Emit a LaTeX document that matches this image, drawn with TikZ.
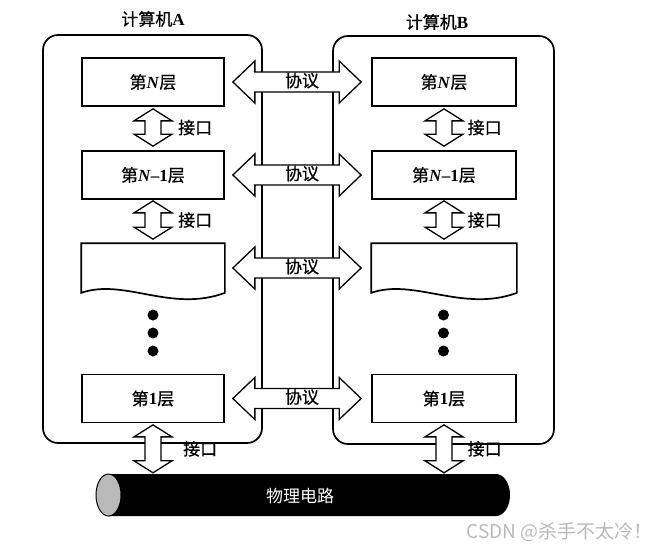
\documentclass[tikz,border=0pt]{standalone}
\usepackage{fontspec}
\setmainfont{Liberation Serif}
\newfontfamily\cjk[FakeBold=0.6]{Noto Sans CJK SC}
\newfontfamily\wmfont{Noto Sans CJK SC}
\usetikzlibrary{calc}
\newcommand{\zh}[1]{{\cjk\mdseries #1}}
\tikzset{
  comp/.style={draw, line width=1.7pt, rounded corners=15pt, minimum width=219pt, minimum height=408pt, inner sep=0pt},
  layer/.style={draw, line width=1.7pt, minimum width=142pt, minimum height=48pt, inner sep=0pt, fill=white, font=\fontsize{17}{20}\selectfont\bfseries},
  arr/.style={draw, line width=1.3pt, fill=white, line join=miter},
  lbl/.style={inner sep=0pt, font=\fontsize{17}{20}\selectfont\bfseries},
  dotnode/.style={circle, fill=black, inner sep=0pt, minimum size=11pt},
  wave/.style={draw, line width=1.7pt, fill=white},
}
\newcommand{\hdarr}[2]{\path[arr] (#1) -- ($(#1)+(22,-21)$) -- ($(#1)+(22,-10)$) -- ($(#2)+(-22,-10)$) -- ($(#2)+(-22,-21)$) -- (#2) -- ($(#2)+(-22,21)$) -- ($(#2)+(-22,10)$) -- ($(#1)+(22,10)$) -- ($(#1)+(22,21)$) -- cycle;}
\newcommand{\vdarr}[2]{\path[arr] (#1) -- ($(#1)+(19,12)$) -- ($(#1)+(8,12)$) -- ($(#2)+(8,-12)$) -- ($(#2)+(19,-12)$) -- (#2) -- ($(#2)+(-19,-12)$) -- ($(#2)+(-8,-12)$) -- ($(#1)+(-8,12)$) -- ($(#1)+(-19,12)$) -- cycle;}
\begin{document}
\begin{tikzpicture}[x=1pt,y=-1pt]
\fill[white] (0,0) rectangle (666,550);
\useasboundingbox (0,0) rectangle (666,550);

% computers
\node[comp] (CA) at (152.5,239) {};
\node[comp, minimum width=221pt] (CB) at (443.5,240) {};
\node[lbl] (tA) at (153,19) {\zh{计算机}A};
\node[lbl] (tB) at (437,22) {\zh{计算机}B};

% left layers
\node[layer] (LN) at (153,82) {\zh{第}\textit{N}\zh{层}};
\node[layer] (LM) at (153,175) {\zh{第}\textit{N}--1\zh{层}};
\node[layer, draw=none, fill=none] (LW) at (153,268) {};
\path[wave] (LW.south west) -- (LW.north west) -- (LW.north east) -- (LW.south east) .. controls ($(LW.south east)+(-54,20)$) and ($(LW.south west)+(43,-15)$) .. (LW.south west) -- cycle;
\node[dotnode] (LD1) at (153,315) {};
\node[dotnode] (LD2) at (153,333) {};
\node[dotnode] (LD3) at (153,351) {};
\node[layer] (L1) at (153,398.5) {\zh{第}1\zh{层}};

% right layers
\node[layer, minimum width=144pt] (RN) at (444,82) {\zh{第}\textit{N}\zh{层}};
\node[layer, minimum width=144pt] (RM) at (444,175) {\zh{第}\textit{N}--1\zh{层}};
\node[layer, minimum width=144pt, draw=none, fill=none] (RW) at (444,268) {};
\path[wave] (RW.south west) -- (RW.north west) -- (RW.north east) -- (RW.south east) .. controls ($(RW.south east)+(-54,20)$) and ($(RW.south west)+(43,-15)$) .. (RW.south west) -- cycle;
\node[dotnode] (RD1) at (443.5,315) {};
\node[dotnode] (RD2) at (443.5,333) {};
\node[dotnode] (RD3) at (443.5,351) {};
\node[layer, minimum width=144pt] (R1) at (444,398.5) {\zh{第}1\zh{层}};

% cable
\fill[black] (108.5,474) -- (496,474) arc[start angle=90, end angle=-90, x radius=14pt, y radius=21pt] -- (108.5,516) -- cycle;
\draw[line width=1pt, fill=gray!55] (108.5,495) ellipse [x radius=12.5pt, y radius=21pt];
\node[inner sep=0pt, text=white, font=\wmfont\fontsize{17}{20}\selectfont, minimum width=390pt, minimum height=42pt] (cable) at (300,496) {物理电路};

% interface arrows (left)
\coordinate (ia1) at ($(LN.south)+(0,2)$);  \coordinate (ib1) at ($(LM.north)+(0,-4)$);
\coordinate (ia2) at ($(LM.south)+(0,1)$);  \coordinate (ib2) at ($(LW.north)+(0,-4)$);
\coordinate (ia3) at ($(L1.south)+(0,1.5)$); \coordinate (ib3) at ($(L1.south |- cable.north)+(0,-2)$);
\vdarr{ia1}{ib1} \vdarr{ia2}{ib2} \vdarr{ia3}{ib3}
% interface arrows (right)
\coordinate (ja1) at ($(RN.south)+(0,2)$);  \coordinate (jb1) at ($(RM.north)+(0,-4)$);
\coordinate (ja2) at ($(RM.south)+(0,1)$);  \coordinate (jb2) at ($(RW.north)+(0,-4)$);
\coordinate (ja3) at ($(R1.south)+(0,1.5)$); \coordinate (jb3) at ($(R1.south |- cable.north)+(0,-2)$);
\vdarr{ja1}{jb1} \vdarr{ja2}{jb2} \vdarr{ja3}{jb3}

\node[lbl, anchor=west] (ka1) at ($(ia1)!0.5!(ib1)+(25,0)$) {\zh{接口}};
\node[lbl, anchor=west] (ka2) at ($(ia2)!0.5!(ib2)+(25,0)$) {\zh{接口}};
\node[lbl, anchor=west] (ka3) at ($(ia3)!0.5!(ib3)+(30,0)$) {\zh{接口}};
\node[lbl, anchor=west] (kb1) at ($(ja1)!0.5!(jb1)+(23.5,0)$) {\zh{接口}};
\node[lbl, anchor=west] (kb2) at ($(ja2)!0.5!(jb2)+(23.5,0)$) {\zh{接口}};
\node[lbl, anchor=west] (kb3) at ($(ja3)!0.5!(jb3)+(23.5,0)$) {\zh{接口}};

% protocol arrows
\coordinate (pa1) at ($(LN.east)+(8,0)$); \coordinate (pb1) at ($(RN.west)+(-10,0)$);
\coordinate (pa2) at ($(LM.east)+(8,0)$); \coordinate (pb2) at ($(RM.west)+(-10,0)$);
\coordinate (pa3) at ($(LW.east)+(8,0)$); \coordinate (pb3) at ($(RW.west)+(-10,0)$);
\coordinate (pa4) at ($(L1.east)+(8,0)$); \coordinate (pb4) at ($(R1.west)+(-10,0)$);
\hdarr{pa1}{pb1} \hdarr{pa2}{pb2} \hdarr{pa3}{pb3} \hdarr{pa4}{pb4}
\node[lbl] (x1) at ($(pa1)!0.5!(pb1)+(5,-1.5)$) {\zh{协议}};
\node[lbl] (x2) at ($(pa2)!0.5!(pb2)+(5,-1.5)$) {\zh{协议}};
\node[lbl] (x3) at ($(pa3)!0.5!(pb3)+(5,-1.5)$) {\zh{协议}};
\node[lbl] (x4) at ($(pa4)!0.5!(pb4)+(5,-1.5)$) {\zh{协议}};

% watermark
\node[inner sep=0pt, anchor=east, text=gray!55, font=\wmfont\fontsize{19}{22}\selectfont] (wm) at (653,532) {CSDN @杀手不太冷！};
\end{tikzpicture}
\end{document}
